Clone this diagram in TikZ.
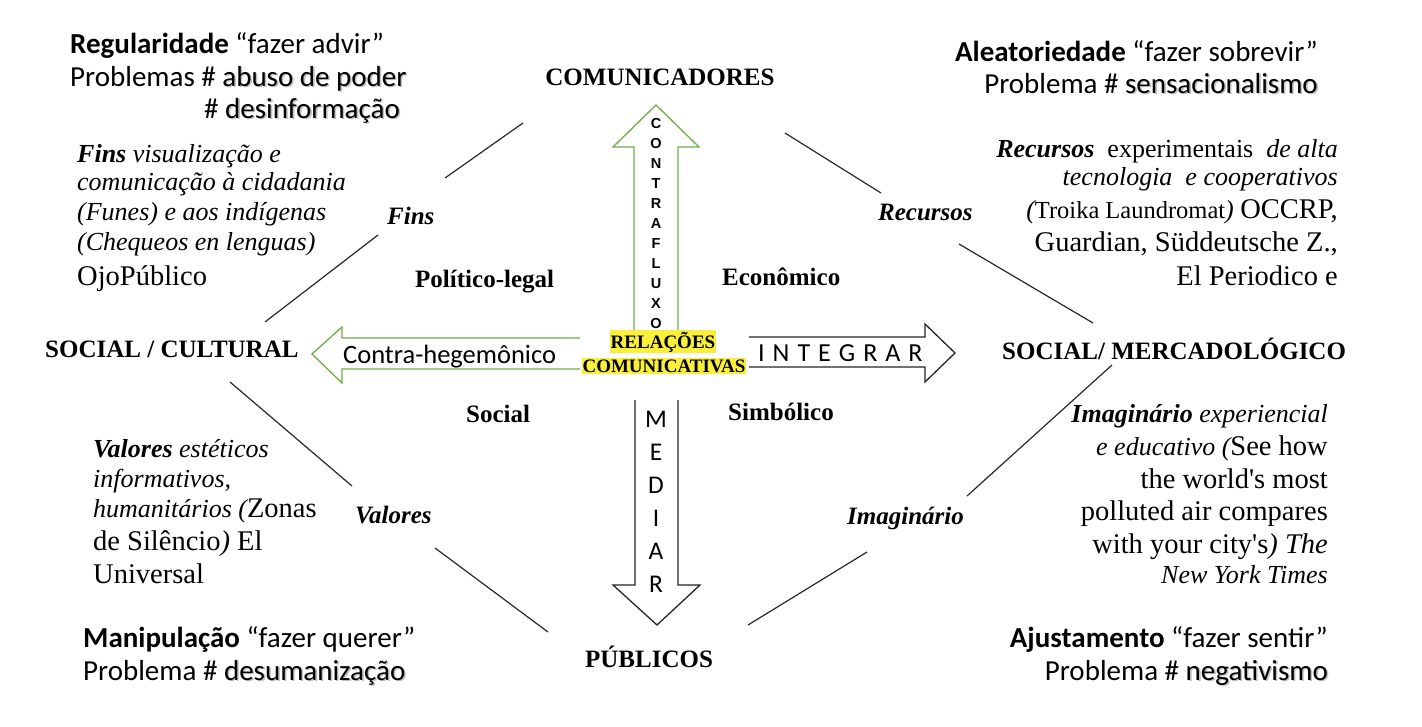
\documentclass[tikz,border=0pt]{standalone}
\usepackage{fontspec}
\setmainfont{Liberation Serif}
\newfontfamily\calfont{Carlito}
\newfontfamily\arialfont{Liberation Sans}
\usepackage{xcolor}
\definecolor{arrgreen}{RGB}{112,173,71}
\definecolor{hilite}{RGB}{250,240,60}
\definecolor{linegray}{RGB}{40,40,40}
\newcommand\shd[1]{\leavevmode\rlap{\hspace{1.6pt}\raisebox{-1.8pt}{\textcolor{black!25}{#1}}}#1}
\tikzset{
  cal/.style={font=\calfont\fontsize{29}{33}\selectfont, inner sep=0pt},
  lab/.style={font=\fontsize{25}{30}\selectfont\bfseries, inner sep=0pt},
  dlab/.style={font=\fontsize{25}{30}\selectfont\bfseries\itshape, inner sep=0pt},
  itx/.style={font=\fontsize{26}{30}\selectfont\itshape, inner sep=0pt},
  upx/.style={font=\fontsize{28.5}{33}\selectfont, inner sep=0pt},
  diag/.style={draw=linegray, line width=1.2pt},
  garrow/.style={draw=arrgreen, line width=1.3pt, line join=miter},
  barrow/.style={draw=black!85, line width=1.3pt, line join=miter},
  hl/.style={font=\fontsize{19}{22}\selectfont\bfseries, fill=hilite, inner xsep=1pt, inner ysep=1.5pt},
}
\newcommand\bi[1]{\textbf{\textit{#1}}}
\newcommand\up[1]{{\fontsize{28.5}{33}\selectfont\upshape #1}}
\begin{document}
\begin{tikzpicture}[x=1pt,y=-1pt]
\useasboundingbox (0,0) rectangle (1422,726);
\fill[white] (0,0) rectangle (1422,726);

% ---- corner texts (Calibri-like)
\node[cal, anchor=base west] (reg) at (70,53) {\textbf{Regularidade} “fazer advir”};
\node[cal, anchor=base west] (probA) at (70,86) {Problemas \# \shd{abuso de poder}};
\node[cal, anchor=base west] (probAb) at (204,118) {\# \shd{desinformação}};

\node[cal, anchor=base east] (alea) at (1318,61) {\textbf{Aleatoriedade} “fazer sobrevir”};
\node[cal, anchor=base east] (probB) at (1318,93) {Problema \# \shd{sensacionalismo}};

\node[cal, anchor=base west] (mani) at (83,647) {\textbf{Manipulação} “fazer querer”};
\node[cal, anchor=base west] (probC) at (83,680) {Problema \# \shd{desumanização}};

\node[cal, anchor=base east] (ajus) at (1328,647) {\textbf{Ajustamento} “fazer sentir”};
\node[cal, anchor=base east] (probD) at (1328,680) {Problema \# \shd{negativismo}};

% ---- Fins block
\node[itx, anchor=base west] (f1) at (77,162) {\bi{Fins} visualização e};
\node[itx, anchor=base west] (f2) at (77,190) {comunicação à cidadania};
\node[itx, anchor=base west] (f3) at (77,220) {(Funes) e aos indígenas};
\node[itx, anchor=base west] (f4) at (77,250) {(Chequeos en lenguas)};
\node[upx, anchor=base west] (f5) at (77,285) {OjoPúblico};

% ---- Recursos block
\node[itx, anchor=base east] (r1) at (1338,157) {\bi{Recursos}\ \ {\upshape experimentais}\ \ de alta};
\node[itx, anchor=base east] (r2) at (1338,185) {tecnologia\ \ e cooperativos};
\node[itx, anchor=base east] (r3) at (1338,218) {({\fontsize{24.5}{30}\selectfont\upshape Troika Laundromat}) \up{OCCRP,}};
\node[upx, anchor=base east] (r4) at (1338,251) {Guardian, Süddeutsche Z.,};
\node[upx, anchor=base east] (r5) at (1338,285) {El Periodico e};

% ---- Valores block
\node[itx, anchor=base west] (v1) at (93,457) {\bi{Valores} estéticos};
\node[itx, anchor=base west] (v2) at (93,487) {informativos,};
\node[itx, anchor=base west] (v3) at (93,517) {humanitários (\up{Zonas}};
\node[upx, anchor=base west] (v4) at (93,550) {de Silêncio\textit{)} El};
\node[upx, anchor=base west] (v5) at (93,583) {Universal};

% ---- Imaginario block
\node[itx, anchor=base east] (i1) at (1328,422) {\bi{Imaginário} experiencial};
\node[itx, anchor=base east] (i2) at (1328,455) {e educativo (\up{See how}};
\node[upx, anchor=base east] (i3) at (1328,488) {the world\textquotesingle s most};
\node[upx, anchor=base east] (i4) at (1328,520) {polluted air compares};
\node[upx, anchor=base east] (i5) at (1328,553) {with your city\textquotesingle s\textit{) The}};
\node[itx, anchor=base east] (i6) at (1328,583) {New York Times};

% ---- main labels
\node[lab, anchor=base] (comm) at (660,85) {COMUNICADORES};
\node[lab, anchor=base] (pub) at (649,667) {PÚBLICOS};
\node[lab, anchor=base west] (socc) at (45,357) {SOCIAL / CULTURAL};
\node[lab, anchor=base west] (socm) at (1002,359) {SOCIAL/ MERCADOLÓGICO};
\node[lab, anchor=base west] (pol) at (415,287) {Político-legal};
\node[lab, anchor=base west] (eco) at (722,285) {Econômico};
\node[lab, anchor=base west] (soc) at (466,422) {Social};
\node[lab, anchor=base west] (sim) at (728,420) {Simbólico};

% ---- diagonal labels
\node[dlab, anchor=base west] (fins) at (387,224) {Fins};
\node[dlab, anchor=base west] (rec) at (878,220) {Recursos};
\node[dlab, anchor=base west] (val) at (355,523) {Valores};
\node[dlab, anchor=base west] (ima) at (847,524) {Imaginário};

% ---- diagonal lines
\coordinate (a1) at (523,123); \coordinate (a2) at (445,178);
\coordinate (a3) at (378,235); \coordinate (a4) at (265,322);
\coordinate (b1) at (785,133); \coordinate (b2) at (881,193);
\coordinate (b3) at (959,244); \coordinate (b4) at (1093,323);
\coordinate (c1) at (230,382); \coordinate (c2) at (352,486);
\coordinate (c3) at (435,548); \coordinate (c4) at (548,632);
\coordinate (d1) at (1112,365); \coordinate (d2) at (967,496);
\coordinate (d3) at (867,552); \coordinate (d4) at (748,625);
\draw[diag] (a1) -- (a2);
\draw[diag] (a3) -- (a4);
\draw[diag] (b1) -- (b2);
\draw[diag] (b3) -- (b4);
\draw[diag] (c1) -- (c2);
\draw[diag] (c3) -- (c4);
\draw[diag] (d1) -- (d2);
\draw[diag] (d3) -- (d4);

% ---- arrows
\draw[garrow] (634,331) -- (634,147) -- (613,147) -- (656,105) -- (699,147) -- (678,147) -- (678,331);
\draw[garrow] (580,338) -- (342,338) -- (342,327) -- (312,354) -- (342,383) -- (342,369) -- (580,369);
\draw[barrow] (749,337) -- (925,337) -- (925,324) -- (955,353) -- (925,382) -- (925,367) -- (749,367);
\draw[barrow] (635,400) -- (635,585) -- (613,585) -- (657,625) -- (700,585) -- (678,585) -- (678,400);

% ---- arrow texts
\foreach \l [count=\i] in {C,O,N,T,R,A,F,L,U,X,O}
  \node[font=\arialfont\bfseries\fontsize{14.5}{16}\selectfont, inner sep=0pt, anchor=base] (cf\i) at (656,{108+20*\i}) {\l};
\foreach \l [count=\i] in {M,E,D,I,A,R}
  \node[font=\calfont\fontsize{25.5}{30}\selectfont, inner sep=0pt, anchor=base] (md\i) at (656,{394+33*\i}) {\l};
\node[font=\calfont\fontsize{26.5}{30}\selectfont, inner sep=0pt, anchor=base west] (contra) at (343,363) {Contra-hegemônico};
\node[font=\calfont\fontsize{26}{30}\selectfont, inner sep=0pt, anchor=base west] (integ) at (758,361)
  {I\hspace{8pt}N\hspace{8pt}T\hspace{8pt}E\hspace{8pt}G\hspace{8pt}R\hspace{8pt}A\hspace{8pt}R};

% ---- centre
\node[hl, anchor=base] (rel1) at (663,348) {RELAÇÕES};
\node[hl, anchor=base] (rel2) at (664,372) {COMUNICATIVAS};
\end{tikzpicture}
\end{document}
